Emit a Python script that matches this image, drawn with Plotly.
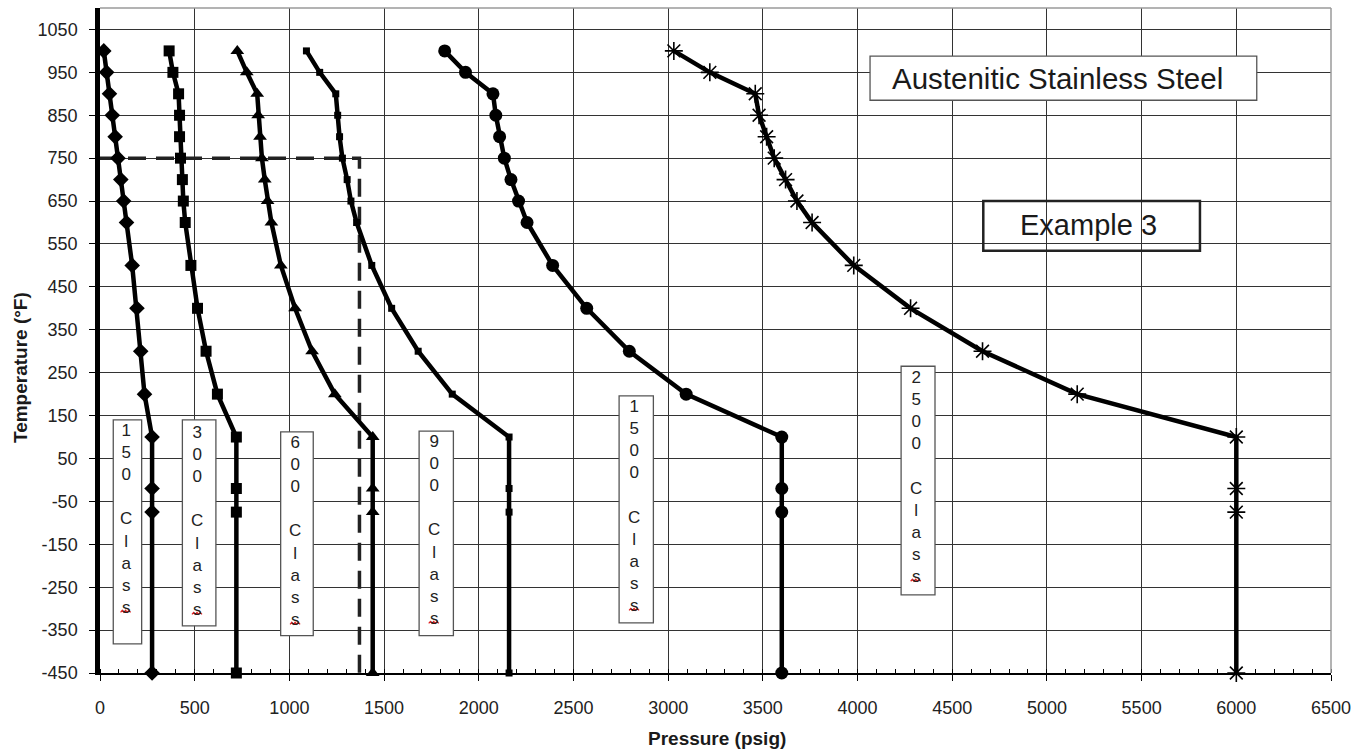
import plotly.graph_objects as go

# Flange pressure-temperature ratings, austenitic stainless steel
temps_f = [-450, -75, -20, 100, 200, 300, 400, 500, 600, 650, 700, 750, 800, 850, 900, 950, 1000]

class_150 = [275, 275, 275, 275, 235, 215, 195, 170, 140, 125, 110, 95, 80, 65, 50, 35, 20]
class_300 = [720, 720, 720, 720, 620, 560, 515, 480, 450, 440, 435, 425, 420, 420, 415, 385, 365]
class_600 = [1440, 1440, 1440, 1440, 1240, 1120, 1030, 955, 905, 885, 870, 855, 845, 835, 830, 775, 725]
class_900 = [2160, 2160, 2160, 2160, 1860, 1680, 1540, 1435, 1355, 1325, 1305, 1280, 1265, 1255, 1245, 1160, 1090]
class_1500 = [3600, 3600, 3600, 3600, 3095, 2795, 2570, 2390, 2255, 2210, 2170, 2135, 2110, 2090, 2075, 1930, 1820]
class_2500 = [6000, 6000, 6000, 6000, 5160, 4660, 4280, 3980, 3760, 3680, 3620, 3560, 3520, 3480, 3460, 3220, 3030]

class_names = ["150", "300", "600", "900", "1500", "2500"]

# Temperature axis ticks
y_ticks = [-450, -350, -250, -150, -50, 50, 150, 250, 350, 450, 550, 650, 750, 850, 950, 1050]
y_tick_labels = ["-450", "-350", "-250", "-150", "-50", "50", "150", "250", "350",
                 "450", "550", "650", "750", "850", "950", "1050"]

# Design point for the worked example
design_pressure = 1370
design_temp = 750

FONT = "Arial, Liberation Sans, sans-serif"
INK = "#1a1a1a"

series = [
    (class_150, "diamond", 12, 0),
    (class_300, "square", 11, 0),
    (class_600, "triangle-up", 12, 0),
    (class_900, "square", 7, 0),
    (class_1500, "circle", 13, 0),
    (class_2500, "asterisk-open", 15, 1.6),
]

fig = go.Figure()

# Design-point guide (dashed)
fig.add_trace(go.Scatter(
    x=[0, design_pressure, design_pressure],
    y=[design_temp, design_temp, -450],
    mode="lines",
    line=dict(color="#222", width=3.5, dash="18px,10px"),
    showlegend=False, hoverinfo="skip", cliponaxis=False,
))

for vals, sym, size, lw in series:
    fig.add_trace(go.Scatter(
        x=vals, y=temps_f, mode="lines+markers",
        line=dict(color="black", width=4.5),
        marker=dict(symbol=sym, size=size, color="black",
                    line=dict(color="black", width=lw)),
        showlegend=False, cliponaxis=False,
    ))

# Plot-area geometry in pixels
L, R, T, B = 100, 1331, 7.5, 673.3
W, H = 1369, 752
Y_PER_PX = 1550 / (B - T)


def px_x(px):
    return (px - L) / (R - L)


def px_y(py):
    return (B - py) / (B - T)


shapes = []
annotations = []

# Class label boxes (data coordinates) and text centre
label_boxes = [
    # x0, x1, y0, y1, text centre x, text centre y
    (70, 220, -382, 140, 135, -91),
    (435, 612, -340, 140, 512, -96),
    (954, 1126, -363, 112, 1030, -119),
    (1685, 1866, -363, 114, 1762, -117),
    (2741, 2922, -333, 196, 2820, -61),
    (4230, 4409, -268, 265, 4307, 7),
]

LINE_PX = 22.1
for name, (x0, x1, y0, y1, tx, ty) in zip(class_names, label_boxes):
    shapes.append(dict(type="rect", xref="x", yref="y", x0=x0, x1=x1, y0=y0, y1=y1,
                       fillcolor="white", line=dict(color="#555", width=1.3), layer="above"))
    text = "<br>".join(list(name)) + "<br><br>" + "<br>".join(list("Class"))
    annotations.append(dict(x=tx, y=ty, xref="x", yref="y", text=text, showarrow=False,
                            xanchor="center", yanchor="middle",
                            font=dict(family=FONT, size=17, color="#222")))
    nlines = len(name) + 1 + 5
    drop_px = (nlines - 1) / 2 * LINE_PX + 5
    sy = ty - drop_px * Y_PER_PX
    shapes.append(dict(type="path", xref="x", yref="y", xsizemode="pixel", ysizemode="pixel",
                       xanchor=tx, yanchor=sy,
                       path="M -5,0 L -3.3,2 L -1.7,0 L 0,2 L 1.7,0 L 3.3,2 L 5,0",
                       line=dict(color="#e02020", width=1.2), layer="above"))

# Title boxes
shapes.append(dict(type="rect", xref="x", yref="y", x0=4066, x1=6108, y0=885, y1=988,
                   fillcolor="white", line=dict(color="#555", width=1.3), layer="above"))
annotations.append(dict(x=5055, y=936, xref="x", yref="y", text="Austenitic Stainless Steel",
                        showarrow=False, xanchor="center", yanchor="middle",
                        font=dict(family=FONT, size=29.5, color=INK)))

shapes.append(dict(type="rect", xref="x", yref="y", x0=4664, x1=5808, y0=534, y1=650,
                   fillcolor="rgba(0,0,0,0)", line=dict(color="#222", width=2.5), layer="above"))
annotations.append(dict(x=5217, y=594, xref="x", yref="y", text="Example 3",
                        showarrow=False, xanchor="center", yanchor="middle",
                        font=dict(family=FONT, size=29, color=INK)))

# Plot-area border (top and right)
shapes.append(dict(type="line", xref="paper", yref="paper", x0=0, x1=1, y0=1, y1=1,
                   line=dict(color="#9a9a9a", width=1.5), layer="above"))
shapes.append(dict(type="line", xref="paper", yref="paper", x0=1, x1=1, y0=0, y1=1,
                   line=dict(color="#9a9a9a", width=1.5), layer="above"))

# Axis titles
annotations.append(dict(x=px_x((L + R) / 2 + 1), y=px_y(739), xref="paper", yref="paper",
                        text="<b>Pressure (psig)</b>", showarrow=False,
                        xanchor="center", yanchor="middle",
                        font=dict(family=FONT, size=19, color=INK)))
annotations.append(dict(x=px_x(20), y=px_y(368), xref="paper", yref="paper",
                        text="<b>Temperature (°F)</b>", showarrow=False, textangle=-90,
                        xanchor="center", yanchor="middle",
                        font=dict(family=FONT, size=19, color=INK)))

fig.update_layout(
    width=W, height=H,
    margin=dict(l=L, r=W - R, t=T, b=H - B, autoexpand=False),
    paper_bgcolor="white", plot_bgcolor="white",
    font=dict(family=FONT, color=INK),
    shapes=shapes, annotations=annotations,
    showlegend=False,
)

fig.update_xaxes(
    range=[0, 6500], tick0=0, dtick=500,
    showgrid=True, gridcolor="#333", gridwidth=1.3, zeroline=False,
    showline=True, linecolor="black", linewidth=1.5,
    ticks="outside", ticklen=6, tickwidth=1.3, tickcolor="black",
    minor=dict(dtick=100, ticks="inside", ticklen=4, tickwidth=1.2, tickcolor="black", showgrid=False),
    tickfont=dict(family=FONT, size=18, color="#222"),
    ticklabelstandoff=12,
)
fig.update_yaxes(
    range=[-450, 1100], tickmode="array", tickvals=y_ticks, ticktext=y_tick_labels,
    showgrid=True, gridcolor="#333", gridwidth=1.3, zeroline=False,
    showline=True, linecolor="black", linewidth=4.5,
    ticks="outside", ticklen=6, tickwidth=1.3, tickcolor="black",
    tickfont=dict(family=FONT, size=18, color="#222"),
    ticklabelstandoff=8,
)

fig.write_html("out.html")
